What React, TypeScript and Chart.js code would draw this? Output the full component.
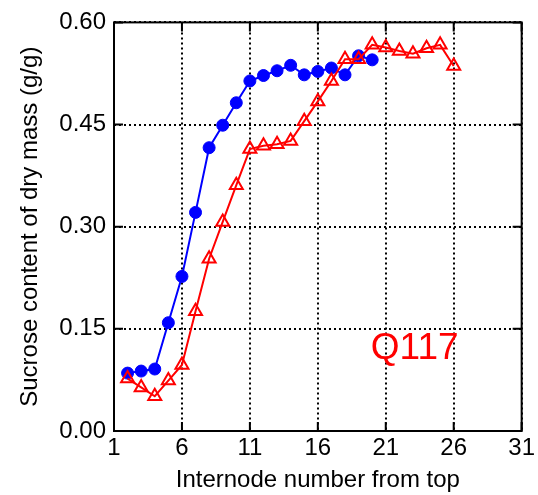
import React, { useEffect, useRef } from "react";
import { Chart, registerables } from "chart.js";

Chart.register(...registerables);

const blueX = [2, 3, 4, 5, 6, 7, 8, 9, 10, 11, 12, 13, 14, 15, 16, 17, 18, 19, 20];
const blueY = [0.085, 0.088, 0.091, 0.159, 0.227, 0.321, 0.416, 0.449, 0.482, 0.514, 0.522, 0.529, 0.537, 0.523, 0.528, 0.533, 0.523, 0.551, 0.545];

const redX = [2, 3, 4, 5, 6, 7, 8, 9, 10, 11, 12, 13, 14, 15, 16, 17, 18, 19, 20, 21, 22, 23, 24, 25, 26];
const redY = [0.077, 0.064, 0.051, 0.074, 0.097, 0.176, 0.253, 0.307, 0.361, 0.414, 0.419, 0.421, 0.426, 0.455, 0.484, 0.514, 0.546, 0.546, 0.567, 0.563, 0.558, 0.554, 0.562, 0.567, 0.536];

const xTicks = [1, 6, 11, 16, 21, 26, 31];
const yTicks = [0, 0.15, 0.3, 0.45, 0.6];

const xTitle = "Internode number from top";
const yTitle = "Sucrose content of dry mass (g/g)";
const labelText = "Q117";
const labelPos = { x: 19.9, y: 0.106 };

const FONT = "'Liberation Sans', Arial, Helvetica, sans-serif";

const framePlugin = {
  id: "frame",
  afterDraw(chart: any) {
    const { ctx, chartArea, scales } = chart;
    const { left, right, top, bottom } = chartArea;
    ctx.save();
    ctx.strokeStyle = "#000";
    ctx.lineWidth = 2;
    ctx.setLineDash([]);
    ctx.strokeRect(left, top, right - left, bottom - top);
    const tl = 9;
    ctx.beginPath();
    xTicks.forEach((v) => {
      const px = scales.x.getPixelForValue(v);
      ctx.moveTo(px, bottom);
      ctx.lineTo(px, bottom - tl);
      ctx.moveTo(px, top);
      ctx.lineTo(px, top + tl);
    });
    yTicks.forEach((v) => {
      const py = scales.y.getPixelForValue(v);
      ctx.moveTo(left, py);
      ctx.lineTo(left + tl, py);
      ctx.moveTo(right, py);
      ctx.lineTo(right - tl, py);
    });
    ctx.stroke();
    ctx.fillStyle = "#ff0000";
    ctx.font = `37px ${FONT}`;
    ctx.textAlign = "left";
    ctx.textBaseline = "alphabetic";
    ctx.fillText(labelText, scales.x.getPixelForValue(labelPos.x), scales.y.getPixelForValue(labelPos.y));
    ctx.restore();
  },
};

export default function App() {
  const ref = useRef<HTMLCanvasElement>(null);
  useEffect(() => {
    document.body.style.margin = "0";
    const canvas = ref.current;
    if (!canvas) return;
    const chart = new Chart(canvas, {
      type: "line",
      data: {
        datasets: [
          {
            label: "blue",
            data: blueX.map((x, i) => ({ x, y: blueY[i] })),
            borderColor: "#0000ff",
            backgroundColor: "#0000ff",
            borderWidth: 2,
            pointStyle: "circle",
            pointRadius: 6,
            pointBorderWidth: 1,
            pointBackgroundColor: "#0000ff",
            pointBorderColor: "#0000ff",
            tension: 0,
            order: 2,
          },
          {
            label: "red",
            data: redX.map((x, i) => ({ x, y: redY[i] })),
            borderColor: "#ff0000",
            backgroundColor: "rgba(0,0,0,0)",
            borderWidth: 2,
            pointStyle: "triangle",
            pointRadius: 7.5,
            pointBorderWidth: 2,
            pointBackgroundColor: "rgba(0,0,0,0)",
            pointBorderColor: "#ff0000",
            tension: 0,
            order: 1,
          },
        ],
      },
      options: {
        responsive: false,
        animation: false,
        events: [],
        layout: { padding: { top: 19, right: 13, left: 0, bottom: 0 } },
        plugins: { legend: { display: false }, tooltip: { enabled: false } },
        scales: {
          x: {
            type: "linear",
            min: 1,
            max: 31,
            afterBuildTicks: (scale: any) => {
              scale.ticks = xTicks.map((v) => ({ value: v }));
            },
            afterFit: (scale: any) => {
              scale.height = 64;
            },
            ticks: {
              color: "#000",
              font: { family: FONT, size: 24 },
              padding: 3,
              maxRotation: 0,
              autoSkip: false,
              callback: (v: any) => String(v),
            },
            grid: { color: "#000", lineWidth: 2, drawTicks: false },
            border: { display: false, dash: [2, 3] },
            title: {
              display: true,
              text: xTitle,
              color: "#000",
              font: { family: FONT, size: 24 },
              padding: { top: 0, bottom: 0 },
            },
          },
          y: {
            type: "linear",
            min: 0,
            max: 0.6,
            afterBuildTicks: (scale: any) => {
              scale.ticks = yTicks.map((v) => ({ value: v }));
            },
            afterFit: (scale: any) => {
              scale.width = 114;
            },
            ticks: {
              color: "#000",
              font: { family: FONT, size: 24 },
              padding: 8,
              autoSkip: false,
              callback: (v: any) => Number(v).toFixed(2),
            },
            grid: { color: "#000", lineWidth: 2, drawTicks: false },
            border: { display: false, dash: [2, 3] },
            title: {
              display: true,
              text: yTitle,
              color: "#000",
              font: { family: FONT, size: 24 },
              padding: { top: 16, bottom: 0 },
            },
          },
        },
      },
      plugins: [framePlugin],
    });
    return () => chart.destroy();
  }, []);
  return (
    <div style={{ width: 538, height: 495, background: "#fff" }}>
      <canvas ref={ref} width={538} height={495} style={{ display: "block" }} />
    </div>
  );
}
